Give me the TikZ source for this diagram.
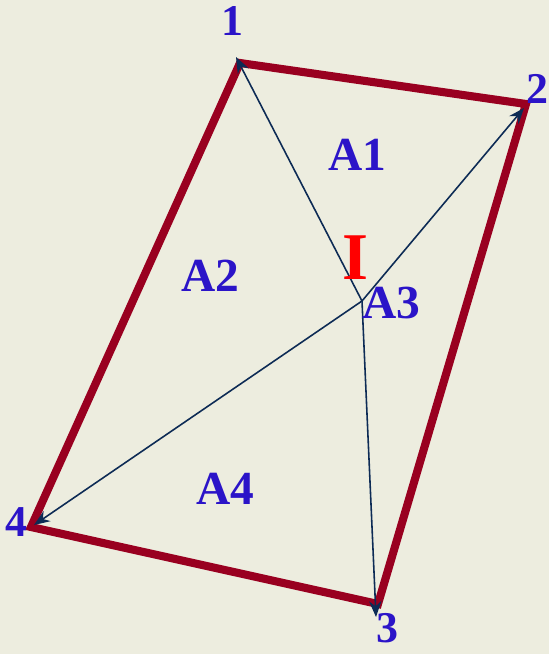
\documentclass[tikz,border=0pt]{standalone}
\usepackage{fontspec}
\setmainfont{Liberation Serif}
\usepackage{tikz}
\usetikzlibrary{arrows.meta, positioning, calc}
\definecolor{quadred}{HTML}{990020}
\definecolor{rayblue}{HTML}{0D2B55}
\definecolor{lblblue}{HTML}{2B14C8}
\definecolor{paper}{HTML}{EDEDDF}

\begin{document}
\begin{tikzpicture}[x=0.02cm, y=-0.02cm,
  edge/.style={draw=quadred, line width=4.6pt, line join=miter},
  ray/.style={draw=rayblue, line width=0.9pt, -{Stealth[length=9pt, width=7pt]}},
  lbl/.style={font=\fontsize{27}{27}\selectfont\bfseries, text=lblblue, inner sep=0pt},
  num/.style={lbl, font=\fontsize{25}{25}\selectfont\bfseries}]
  \fill[paper] (0,0) rectangle (549,654);
  \useasboundingbox (0,0) rectangle (549,654);
  % corners of the quad
  \coordinate (v1) at (240,63);
  \coordinate (v2) at (526,104);
  \coordinate (v3) at (378,604);
  \coordinate (v4) at (31,527);
  % tips of the rays
  \coordinate (t1) at (236,57);
  \coordinate (t2) at (524,108);
  \coordinate (t3) at (376,617);
  \coordinate (t4) at (34,525);
  \coordinate (c) at (362,301);
  \draw[edge] (v1) -- (v2) -- (v3) -- (v4) -- cycle;
  \draw[ray] (c) -- (t1);
  \draw[ray] (c) -- (t2);
  \draw[ray] (c) -- (t3);
  \draw[ray] (c) -- (t4);
  \node[num] (n1) at (232,21) {1};
  \node[num] (n2) at (537,89) {2};
  \node[num] (n3) at (387,628) {3};
  \node[num] (n4) at (16,522) {4};
  \node[lbl] (a1) at (357,155) {A1};
  \node[lbl] (a2) at (210,276) {A2};
  \node[lbl] (a3) at (391,303) {A3};
  \node[lbl] (a4) at (225,489) {A4};
  \node[font=\fontsize{38}{38}\selectfont\bfseries, text=red, inner sep=0pt] (pt) at (355,258) {I};
\end{tikzpicture}
\end{document}
